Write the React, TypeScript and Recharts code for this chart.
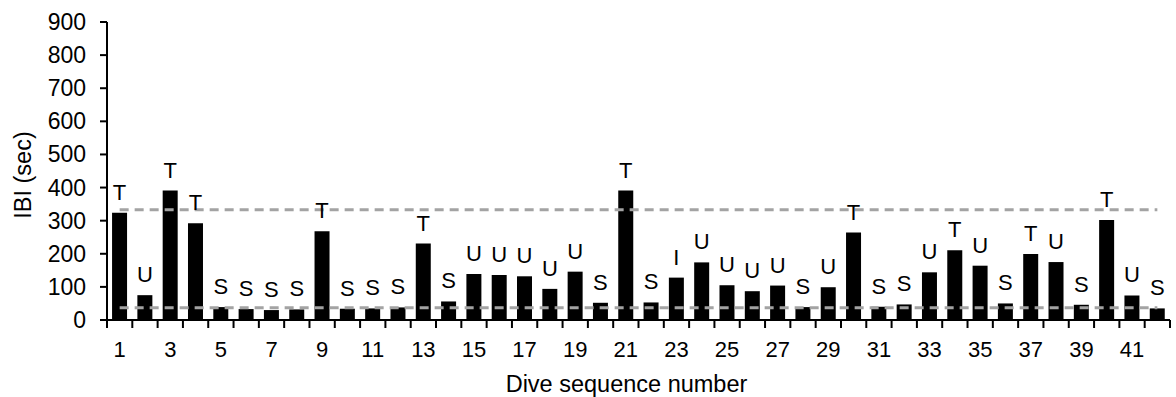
import React from 'react';
import { BarChart, Bar, XAxis, YAxis, LabelList, ReferenceLine } from 'recharts';

// dive sequence numbers (x categories)
const dives = [
  1, 2, 3, 4, 5, 6, 7, 8, 9, 10, 11, 12, 13, 14, 15, 16, 17, 18, 19, 20, 21,
  22, 23, 24, 25, 26, 27, 28, 29, 30, 31, 32, 33, 34, 35, 36, 37, 38, 39, 40, 41, 42,
];

// inter-breath interval, seconds
const ibi = [
  324, 75, 391, 292, 39, 33, 30, 32, 268, 34, 35, 38, 231, 56, 139, 136, 132, 94, 146, 52, 391,
  53, 128, 174, 105, 87, 104, 39, 99, 264, 40, 47, 144, 211, 164, 50, 199, 175, 46, 302, 74, 35,
];

// letter code over each bar
const codes = [
  'T', 'U', 'T', 'T', 'S', 'S', 'S', 'S', 'T', 'S', 'S', 'S', 'T', 'S', 'U', 'U', 'U', 'U', 'U', 'S', 'T',
  'S', 'I', 'U', 'U', 'U', 'U', 'S', 'U', 'T', 'S', 'S', 'U', 'T', 'U', 'S', 'T', 'U', 'S', 'T', 'U', 'S',
];

const yTicks = [0, 100, 200, 300, 400, 500, 600, 700, 800, 900];
const upperLimit = 333;
const lowerLimit = 37;

const data = dives.map((d, i) => ({ dive: d, ibi: ibi[i], code: codes[i] }));

const FONT = '"Liberation Sans", Arial, sans-serif';
const W = 1176;
const H = 397;
const LEFT = 107;
const RIGHT = 6;
const HALF = (W - LEFT - RIGHT) / dives.length / 2;

// Excel-style ticks: marks between categories, labels on odd numbers
const DiveTick = (props: any) => {
  const { x, y, payload, index } = props;
  const last = index === dives.length - 1;
  return (
    <g>
      <line x1={x - HALF} x2={x - HALF} y1={y} y2={y + 8} stroke="#000" strokeWidth={2} />
      {last && <line x1={x + HALF} x2={x + HALF} y1={y} y2={y + 8} stroke="#000" strokeWidth={2} />}
      {index % 2 === 0 && (
        <text x={x} y={y + 37} textAnchor="middle" fontSize={22} fontFamily={FONT} fill="#000">
          {payload.value}
        </text>
      )}
    </g>
  );
};

const IbiTick = (props: any) => {
  const { x, y, payload } = props;
  return (
    <text x={x} y={y} dy={8} textAnchor="end" fontSize={23} fontFamily={FONT} fill="#000">
      {payload.value}
    </text>
  );
};

const CodeLabel = (props: any) => {
  const { x, y, width, value } = props;
  return (
    <text x={x + width / 2} y={y - 13} textAnchor="middle" fontSize={22} fontFamily={FONT} fill="#000">
      {value}
    </text>
  );
};

export default function App() {
  return (
    <div style={{ position: 'absolute', left: 0, top: 0, width: W, height: H, background: '#fff' }}>
      <BarChart
        width={W}
        height={H}
        data={data}
        margin={{ top: 22, right: RIGHT, bottom: 0, left: 0 }}
        barCategoryGap="20%"
      >
        <XAxis
          dataKey="dive"
          interval={0}
          height={77}
          tickSize={0}
          tickMargin={0}
          tickLine={false}
          tick={<DiveTick />}
          axisLine={{ stroke: '#000', strokeWidth: 2 }}
          label={{
            content: (p: any) => (
              <text
                x={p.viewBox.x + p.viewBox.width / 2 - 12}
                y={392}
                textAnchor="middle"
                fontSize={23.5}
                fontFamily={FONT}
                fill="#000"
              >
                Dive sequence number
              </text>
            ),
          }}
        />
        <YAxis
          width={LEFT}
          domain={[0, 900]}
          ticks={yTicks}
          interval={0}
          tickSize={7}
          tickMargin={14}
          tick={<IbiTick />}
          tickLine={{ stroke: '#000', strokeWidth: 2 }}
          axisLine={{ stroke: '#000', strokeWidth: 2 }}
          label={{
            content: (p: any) => {
              const cy = p.viewBox.y + p.viewBox.height / 2 + 4;
              return (
                <text
                  x={23}
                  y={cy}
                  transform={`rotate(-90, 23, ${cy})`}
                  textAnchor="middle"
                  dominantBaseline="central"
                  fontSize={23.5}
                  fontFamily={FONT}
                  fill="#000"
                >
                  IBI (sec)
                </text>
              );
            },
          }}
        />
        <Bar dataKey="ibi" fill="#000" isAnimationActive={false}>
          <LabelList dataKey="code" content={<CodeLabel />} />
        </Bar>
        <ReferenceLine
          segment={[{ x: 1, y: upperLimit }, { x: 42, y: upperLimit }]}
          stroke="#a3a3a3"
          strokeWidth={3}
          strokeDasharray="9 6"
        />
        <ReferenceLine
          segment={[{ x: 1, y: lowerLimit }, { x: 42, y: lowerLimit }]}
          stroke="#a3a3a3"
          strokeWidth={3}
          strokeDasharray="9 6"
        />
      </BarChart>
    </div>
  );
}
